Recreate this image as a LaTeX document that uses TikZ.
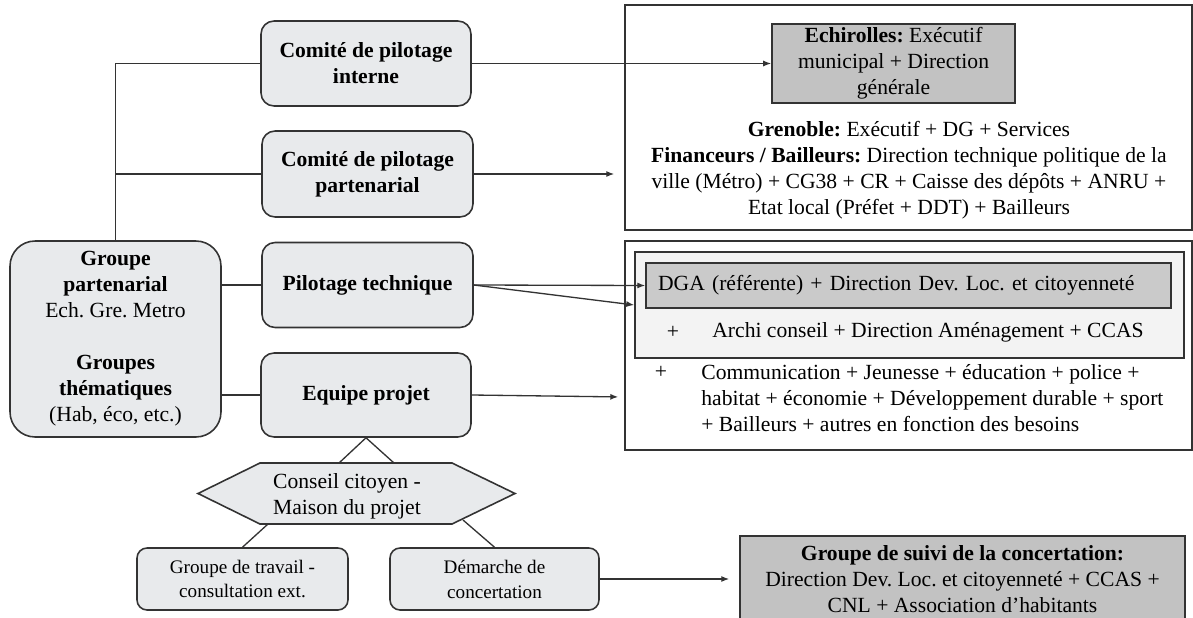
\documentclass[tikz,border=0pt]{standalone}
\usepackage{fontspec}
\setmainfont{Liberation Serif}
\usepackage{tikz}
\usetikzlibrary{arrows.meta, positioning, calc}
\definecolor{pilot-fill}{HTML}{E8EAEC}
\definecolor{pilot-line}{HTML}{333333}
\definecolor{pilot-dark}{HTML}{C2C2C2}
\definecolor{pilot-mid}{HTML}{CACACA}
\definecolor{pilot-light}{HTML}{F3F3F3}
\frenchspacing

\begin{document}
\begin{tikzpicture}[
    x=0.02cm, y=-0.02cm,
    every node/.style={font=\fontsize{12.3}{14.8}\selectfont},
    roundbox/.style={rectangle, draw=pilot-line, line width=0.9pt, fill=pilot-fill, rounded corners=0.26cm, align=center, inner sep=0pt},
    smallbox/.style={roundbox, rounded corners=0.2cm, font=\fontsize{10.9}{14.2}\selectfont},
    darkbox/.style={rectangle, draw=pilot-line, line width=0.9pt, fill=pilot-dark, align=center, inner sep=0pt},
    framebox/.style={rectangle, draw=pilot-line, line width=0.9pt, fill=white, inner sep=0pt},
    txt/.style={align=center, inner sep=0pt},
    link/.style={draw=pilot-line, line width=0.75pt},
    arrow/.style={link, -{Latex[length=1.6mm, width=1.2mm]}}
]
\clip (0,0) rectangle (1193,618);
\fill[white] (0,0) rectangle (1193,618);

% Left column
\node[roundbox, rounded corners=0.5cm, minimum width=4.22cm, minimum height=3.92cm] (groupe) at (115.5,339)
  {\textbf{Groupe}\\\textbf{partenarial}\\Ech. Gre. Metro\\[14.8pt]\textbf{Groupes}\\\textbf{thématiques}\\(Hab, éco, etc.)};

% Pilotage boxes
\node[roundbox, minimum width=4.2cm, minimum height=1.7cm] (interne) at (366,63.5) {\textbf{Comité de pilotage}\\\textbf{interne}};
\node[roundbox, minimum width=4.22cm, minimum height=1.72cm] (partenarial) at (367.5,174) {\textbf{Comité de pilotage}\\\textbf{partenarial}};
\node[roundbox, minimum width=4.22cm, minimum height=1.7cm] (pilotage) at (367.5,285) {\textbf{Pilotage technique}};
\node[roundbox, minimum width=4.2cm, minimum height=1.68cm] (equipe) at (366,395) {\textbf{Equipe projet}};

% Conseil citoyen
\coordinate (hexL) at (198,493.5);
\coordinate (hexR) at (515,493.5);
\filldraw[link, line width=0.9pt, fill=pilot-fill] (hexL) -- (260,463) -- (452,463) -- (hexR) -- (452,524) -- (260,524) -- cycle;
\node[txt] (conseil) at (347,496) {Conseil citoyen -\\Maison du projet};
\node[smallbox, minimum width=4.22cm, minimum height=1.24cm] (travail) at (242.5,579) {Groupe de travail -\\consultation ext.};
\node[smallbox, minimum width=4.18cm, minimum height=1.24cm] (demarche) at (494.5,579) {Démarche de\\concertation};

% Tree links
\draw[link] (groupe.north) |- (interne.west);
\draw[link] (groupe.north |- partenarial.west) -- (partenarial.west);
\draw[link] (groupe.east |- pilotage.west) -- (pilotage.west);
\draw[link] (groupe.east |- equipe.west) -- (equipe.west);
\coordinate (hexTL) at (339,463);
\coordinate (hexTR) at (394,463);
\coordinate (hexBL) at (268,524);
\coordinate (hexBR) at (463,520);
\draw[link] (hexTL) -- (equipe.south) -- (hexTR);
\draw[link] (hexBL) -- (travail.north);
\draw[link] (hexBR) -- (demarche.north);

% Right column, top frame
\node[framebox, minimum width=11.34cm, minimum height=4.5cm] (frameA) at (908.5,117.5) {};
\node[darkbox, minimum width=4.86cm, minimum height=1.58cm] (echirolles) at (893.5,63.5)
  {\textbf{Echirolles:} Exécutif\\municipal + Direction\\générale};
\node[txt] (grenoble) at (909,170)
  {\textbf{Grenoble:} Exécutif + DG + Services\\
   \textbf{Financeurs / Bailleurs:} Direction technique politique de la\\
   ville (Métro) + CG38 + CR + Caisse des dépôts + ANRU +\\
   Etat local (Préfet + DDT) + Bailleurs};

% Right column, technical frame
\node[framebox, minimum width=11.34cm, minimum height=4.18cm] (frameB) at (908.5,345.5) {};
\node[framebox, fill=pilot-light, minimum width=10.98cm, minimum height=2.12cm] (inner) at (909.5,305) {};
\node[darkbox, fill=pilot-mid, minimum height=0.9cm, text width=10.02cm, align=left, inner xsep=0.24cm] (dga) at (908.5,285.5)
  {DGA (référente) + Direction Dev. Loc. et citoyenneté};
\node[txt] (plusA) at (673,332) {+};
\node[txt] (archi) at (928,332) {Archi conseil + Direction Aménagement + CCAS};
\node[txt] (plusB) at (661,372) {+};
\node[txt, anchor=west, align=left] (services) at (701,398)
  {Communication + Jeunesse + éducation + police +\\
   habitat + économie + Développement durable + sport\\
   + Bailleurs + autres en fonction des besoins};

% Concertation
\node[darkbox, anchor=north, minimum width=8.9cm, inner ysep=0.2cm] (suivi) at (962.5,535)
  {\textbf{Groupe de suivi de la concertation:}\\Direction Dev. Loc. et citoyenneté + CCAS +\\CNL + Association d’habitants};

% Arrows
\draw[arrow] (interne.east) -- (echirolles.west);
\draw[arrow, shorten >=0.2cm] (partenarial.east) -- (partenarial.east -| frameA.west);
\draw[arrow] (pilotage.east) -- (dga.west);
\draw[arrow] (pilotage.east) -- (inner.west);
\draw[arrow, shorten >=0.12cm] (equipe.east) -- ($(equipe.east -| frameB.west)+(0,2)$);
\draw[arrow, shorten >=0.2cm] (demarche.east) -- (demarche.east -| suivi.west);

\end{tikzpicture}
\end{document}
